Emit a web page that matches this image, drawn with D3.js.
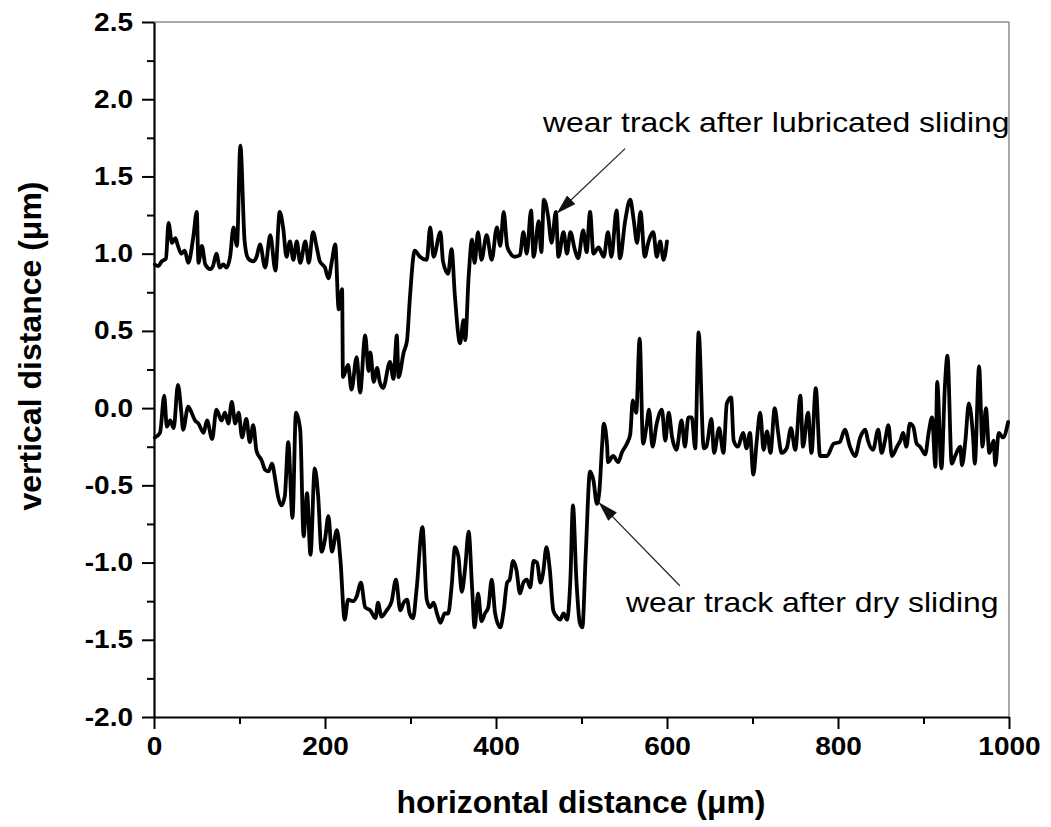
<!DOCTYPE html>
<html>
<head>
<meta charset="utf-8">
<script src="https://cdn.jsdelivr.net/npm/d3@7"></script>
<style>
  html, body { margin: 0; padding: 0; background: #fff; }
  svg { display: block; }
</style>
</head>
<body>
<svg id="chart" width="1051" height="827"></svg>
<script>
// Surface profile across the wear track after lubricated sliding (x in µm, height in µm)
const lubricatedX = [1,5,9,14,17,21,25,28,32,36,40,46,50,52,56,60,66,69,73,77,81,85,89,93,97,101,106,110,116,120,124,130,136,142,147,151,155,159,163,167,171,177,181,186,190,194,200,204,208,212,216,220,221,227,231,237,241,247,251,253,257,261,264,268,276,280,284,286,292,296,299,305,311,319,323,327,335,338,344,348,352,358,362,364,368,372,375,379,383,389,395,401,405,409,413,416,422,428,432,436,441,444,450,453,456,461,465,470,473,479,483,487,492,496,502,506,510,514,520,526,531,535,541,545,551,557,561,565,569,574,578,584,588,592,596,600];
const lubricatedY = [0.93,0.92,0.95,0.97,1.20,1.07,1.10,1.05,1.00,1.02,0.94,1.11,1.27,0.94,1.05,0.93,0.90,0.92,1.00,0.91,0.93,0.91,0.98,1.17,1.05,1.70,1.08,0.97,0.95,0.98,1.06,0.91,1.12,0.89,1.27,1.17,0.98,1.08,0.96,1.08,0.94,1.08,0.94,1.14,1.05,0.95,0.91,0.84,0.95,1.06,0.64,0.77,0.20,0.28,0.12,0.33,0.10,0.47,0.24,0.36,0.17,0.26,0.17,0.13,0.30,0.19,0.47,0.20,0.36,0.44,0.69,1.02,0.98,0.96,1.17,0.98,1.14,0.95,0.87,1.03,0.72,0.42,0.57,0.44,0.85,1.09,0.94,1.14,0.96,1.12,0.96,1.17,1.05,1.27,1.05,1.01,0.98,0.99,1.14,1.00,1.28,0.98,1.21,1.01,1.35,1.24,1.07,1.27,0.98,1.14,1.00,1.14,1.03,0.97,1.15,1.01,1.27,1.00,1.04,0.98,1.14,0.98,1.28,0.97,1.21,1.35,1.22,1.07,1.27,0.98,1.07,1.14,0.98,1.08,0.96,1.08];

// Surface profile across the wear track after dry sliding
const dryX = [1,7,12,15,19,23,28,32,34,40,44,48,52,58,62,68,73,79,83,87,91,95,99,103,108,112,116,120,126,130,134,138,142,145,149,153,157,162,166,171,175,179,183,188,192,196,200,204,208,214,218,223,227,233,237,242,247,253,259,262,266,272,278,283,288,292,296,299,303,307,314,319,323,327,331,335,340,344,348,352,356,360,364,368,372,375,379,383,387,391,395,399,405,409,413,416,420,424,428,432,436,440,444,448,452,455,459,463,467,471,475,479,483,487,490,494,498,501,505,510,514,518,521,524,526,530,531,537,543,547,553,557,560,564,568,572,576,579,583,588,594,598,602,606,611,617,621,625,629,633,637,643,646,652,655,661,666,670,675,678,683,689,693,697,701,705,709,713,717,721,726,730,734,740,745,750,756,759,765,769,774,779,787,795,802,808,814,820,826,832,835,841,847,851,855,859,863,869,873,876,880,884,888,892,896,902,906,910,914,916,921,925,928,933,937,943,945,949,953,958,960,965,969,973,977,982,984,988,993,999];
const dryY = [-0.19,-0.16,0.08,-0.12,-0.08,-0.13,0.15,-0.03,-0.14,0.01,-0.03,-0.08,-0.10,-0.16,-0.08,-0.20,-0.01,-0.08,-0.03,-0.10,0.04,-0.10,-0.03,-0.19,-0.07,-0.22,-0.11,-0.28,-0.34,-0.40,-0.41,-0.36,-0.47,-0.57,-0.63,-0.57,-0.22,-0.71,-0.03,-0.14,-0.83,-0.55,-0.95,-0.39,-0.57,-0.93,-0.85,-0.70,-0.93,-0.79,-0.98,-1.37,-1.24,-1.25,-1.22,-1.13,-1.29,-1.31,-1.36,-1.26,-1.35,-1.31,-1.25,-1.11,-1.31,-1.26,-1.24,-1.33,-1.36,-1.18,-0.77,-1.24,-1.29,-1.26,-1.33,-1.39,-1.33,-1.33,-1.16,-0.90,-0.96,-1.19,-1.03,-0.80,-1.16,-1.42,-1.20,-1.38,-1.33,-1.29,-1.11,-1.33,-1.42,-1.31,-1.13,-1.11,-0.99,-1.05,-1.20,-1.13,-1.11,-1.16,-0.99,-1.00,-1.13,-1.07,-0.90,-1.05,-1.31,-1.35,-1.37,-1.33,-1.37,-1.11,-0.63,-1.11,-1.39,-1.42,-0.94,-0.41,-0.47,-0.62,-0.53,-0.25,-0.10,-0.25,-0.35,-0.31,-0.35,-0.29,-0.23,-0.17,0.05,-0.03,0.45,-0.23,-0.12,-0.01,-0.25,-0.10,-0.01,-0.21,-0.03,-0.19,-0.27,-0.08,-0.25,-0.06,-0.06,-0.26,0.49,-0.26,-0.25,-0.07,-0.29,-0.13,-0.29,0.03,0.07,-0.21,-0.25,-0.16,-0.26,-0.16,-0.43,-0.21,-0.03,-0.27,-0.15,-0.29,0.00,-0.16,-0.29,-0.26,-0.13,-0.27,0.08,-0.25,-0.03,-0.29,0.13,-0.31,-0.31,-0.23,-0.22,-0.14,-0.25,-0.31,-0.19,-0.14,-0.21,-0.27,-0.14,-0.29,-0.21,-0.11,-0.31,-0.25,-0.21,-0.16,-0.25,-0.10,-0.12,-0.23,-0.25,-0.30,-0.16,-0.06,-0.38,0.17,-0.39,0.14,0.34,-0.36,-0.31,-0.25,-0.37,-0.21,0.03,-0.19,-0.36,0.27,-0.25,0.00,-0.29,-0.21,-0.37,-0.16,-0.19,-0.09];

// Axis ticks
const xMajorTicks = [0, 200, 400, 600, 800, 1000];
const xMinorTicks = [100, 300, 500, 700, 900];
const yMajorTicks = [-2.0, -1.5, -1.0, -0.5, 0.0, 0.5, 1.0, 1.5, 2.0, 2.5];
const yMinorTicks = [-1.75, -1.25, -0.75, -0.25, 0.25, 0.75, 1.25, 1.75, 2.25];

// Callout texts, anchored in data units
const notes = [
  { text: "wear track after lubricated sliding", tx: 455, ty: 1.79, x1: 551, y1: 1.68, x2: 471, y2: 1.26 },
  { text: "wear track after dry sliding", tx: 552, ty: -1.32, x1: 615, y1: -1.15, x2: 520, y2: -0.61 }
];

const svg = d3.select("#chart");
const plot = { left: 154, right: 1009, top: 22, bottom: 717 };

const x = d3.scaleLinear().domain([0, 1000]).range([plot.left, plot.right]);
const y = d3.scaleLinear().domain([-2.0, 2.5]).range([plot.bottom, plot.top]);

const font = "'Liberation Sans', Arial, sans-serif";

// widen a text element horizontally (the figure uses a broad sans face)
function widen(sel, k) {
  sel.each(function () {
    const w = this.getComputedTextLength();
    d3.select(this).attr("textLength", w * k).attr("lengthAdjust", "spacingAndGlyphs");
  });
}

// frame: thin grey top and right edges
svg.append("line").attr("x1", plot.left).attr("x2", plot.right).attr("y1", plot.top).attr("y2", plot.top)
  .attr("stroke", "#8c8c8c").attr("stroke-width", 1.5);
svg.append("line").attr("x1", plot.right).attr("x2", plot.right).attr("y1", plot.top).attr("y2", plot.bottom)
  .attr("stroke", "#8c8c8c").attr("stroke-width", 1.5);

// minor ticks
svg.append("g").attr("transform", `translate(0,${plot.bottom})`)
  .call(d3.axisBottom(x).tickValues(xMinorTicks).tickSize(7).tickSizeOuter(0).tickFormat(""))
  .call(g => g.select(".domain").remove())
  .call(g => g.selectAll("line").attr("stroke", "#000").attr("stroke-width", 2));
svg.append("g").attr("transform", `translate(${plot.left},0)`)
  .call(d3.axisLeft(y).tickValues(yMinorTicks).tickSize(7).tickSizeOuter(0).tickFormat(""))
  .call(g => g.select(".domain").remove())
  .call(g => g.selectAll("line").attr("stroke", "#000").attr("stroke-width", 2));

// major axes
const xAxis = svg.append("g").attr("transform", `translate(0,${plot.bottom})`)
  .call(d3.axisBottom(x).tickValues(xMajorTicks).tickSize(12).tickSizeOuter(0).tickPadding(8).tickFormat(d => String(d)));
const yAxis = svg.append("g").attr("transform", `translate(${plot.left},0)`)
  .call(d3.axisLeft(y).tickValues(yMajorTicks).tickSize(12).tickSizeOuter(0).tickPadding(9).tickFormat(d => d.toFixed(1)));

[xAxis, yAxis].forEach(g => {
  g.select(".domain").attr("stroke", "#000").attr("stroke-width", 2.2);
  g.selectAll(".tick line").attr("stroke", "#000").attr("stroke-width", 2);
  g.selectAll("text").attr("fill", "#000").style("font-family", font)
    .style("font-weight", "bold").style("font-size", "25px");
});
widen(xAxis.selectAll("text"), 1.12);
widen(yAxis.selectAll("text"), 1.12);

// profiles
const line = d3.line().x(d => x(d[0])).y(d => y(d[1])).curve(d3.curveMonotoneX);
const lubricated = lubricatedX.map((v, i) => [v, lubricatedY[i]]);
const dry = dryX.map((v, i) => [v, dryY[i]]);
[lubricated, dry].forEach(data => {
  svg.append("path").datum(data).attr("d", line)
    .attr("fill", "none").attr("stroke", "#000").attr("stroke-width", 3.8)
    .attr("stroke-linejoin", "round").attr("stroke-linecap", "round");
});

// callouts with arrows
svg.append("defs").append("marker")
  .attr("id", "arrowhead").attr("markerUnits", "userSpaceOnUse")
  .attr("viewBox", "0 0 20 12").attr("refX", 20).attr("refY", 6)
  .attr("markerWidth", 20).attr("markerHeight", 12).attr("orient", "auto")
  .append("path").attr("d", "M0,0 L20,6 L0,12 Z").attr("fill", "#111");

notes.forEach(n => {
  svg.append("line")
    .attr("x1", x(n.x1)).attr("y1", y(n.y1)).attr("x2", x(n.x2)).attr("y2", y(n.y2))
    .attr("stroke", "#222").attr("stroke-width", 1.2).attr("marker-end", "url(#arrowhead)");
  const t = svg.append("text").attr("x", x(n.tx)).attr("y", y(n.ty))
    .style("font-family", font).style("font-size", "28px").attr("fill", "#000")
    .text(n.text);
  widen(t, 1.14);
});

// axis titles
const xTitle = svg.append("text").attr("x", 581).attr("y", 813)
  .attr("text-anchor", "middle").style("font-family", font)
  .style("font-weight", "bold").style("font-size", "31px").text("horizontal distance (\u03bcm)");
widen(xTitle, 1.03);
svg.append("text").attr("transform", "translate(41,346) rotate(-90)")
  .attr("text-anchor", "middle").style("font-family", font)
  .style("font-weight", "bold").style("font-size", "32px").text("vertical distance (\u03bcm)");
</script>
</body>
</html>
